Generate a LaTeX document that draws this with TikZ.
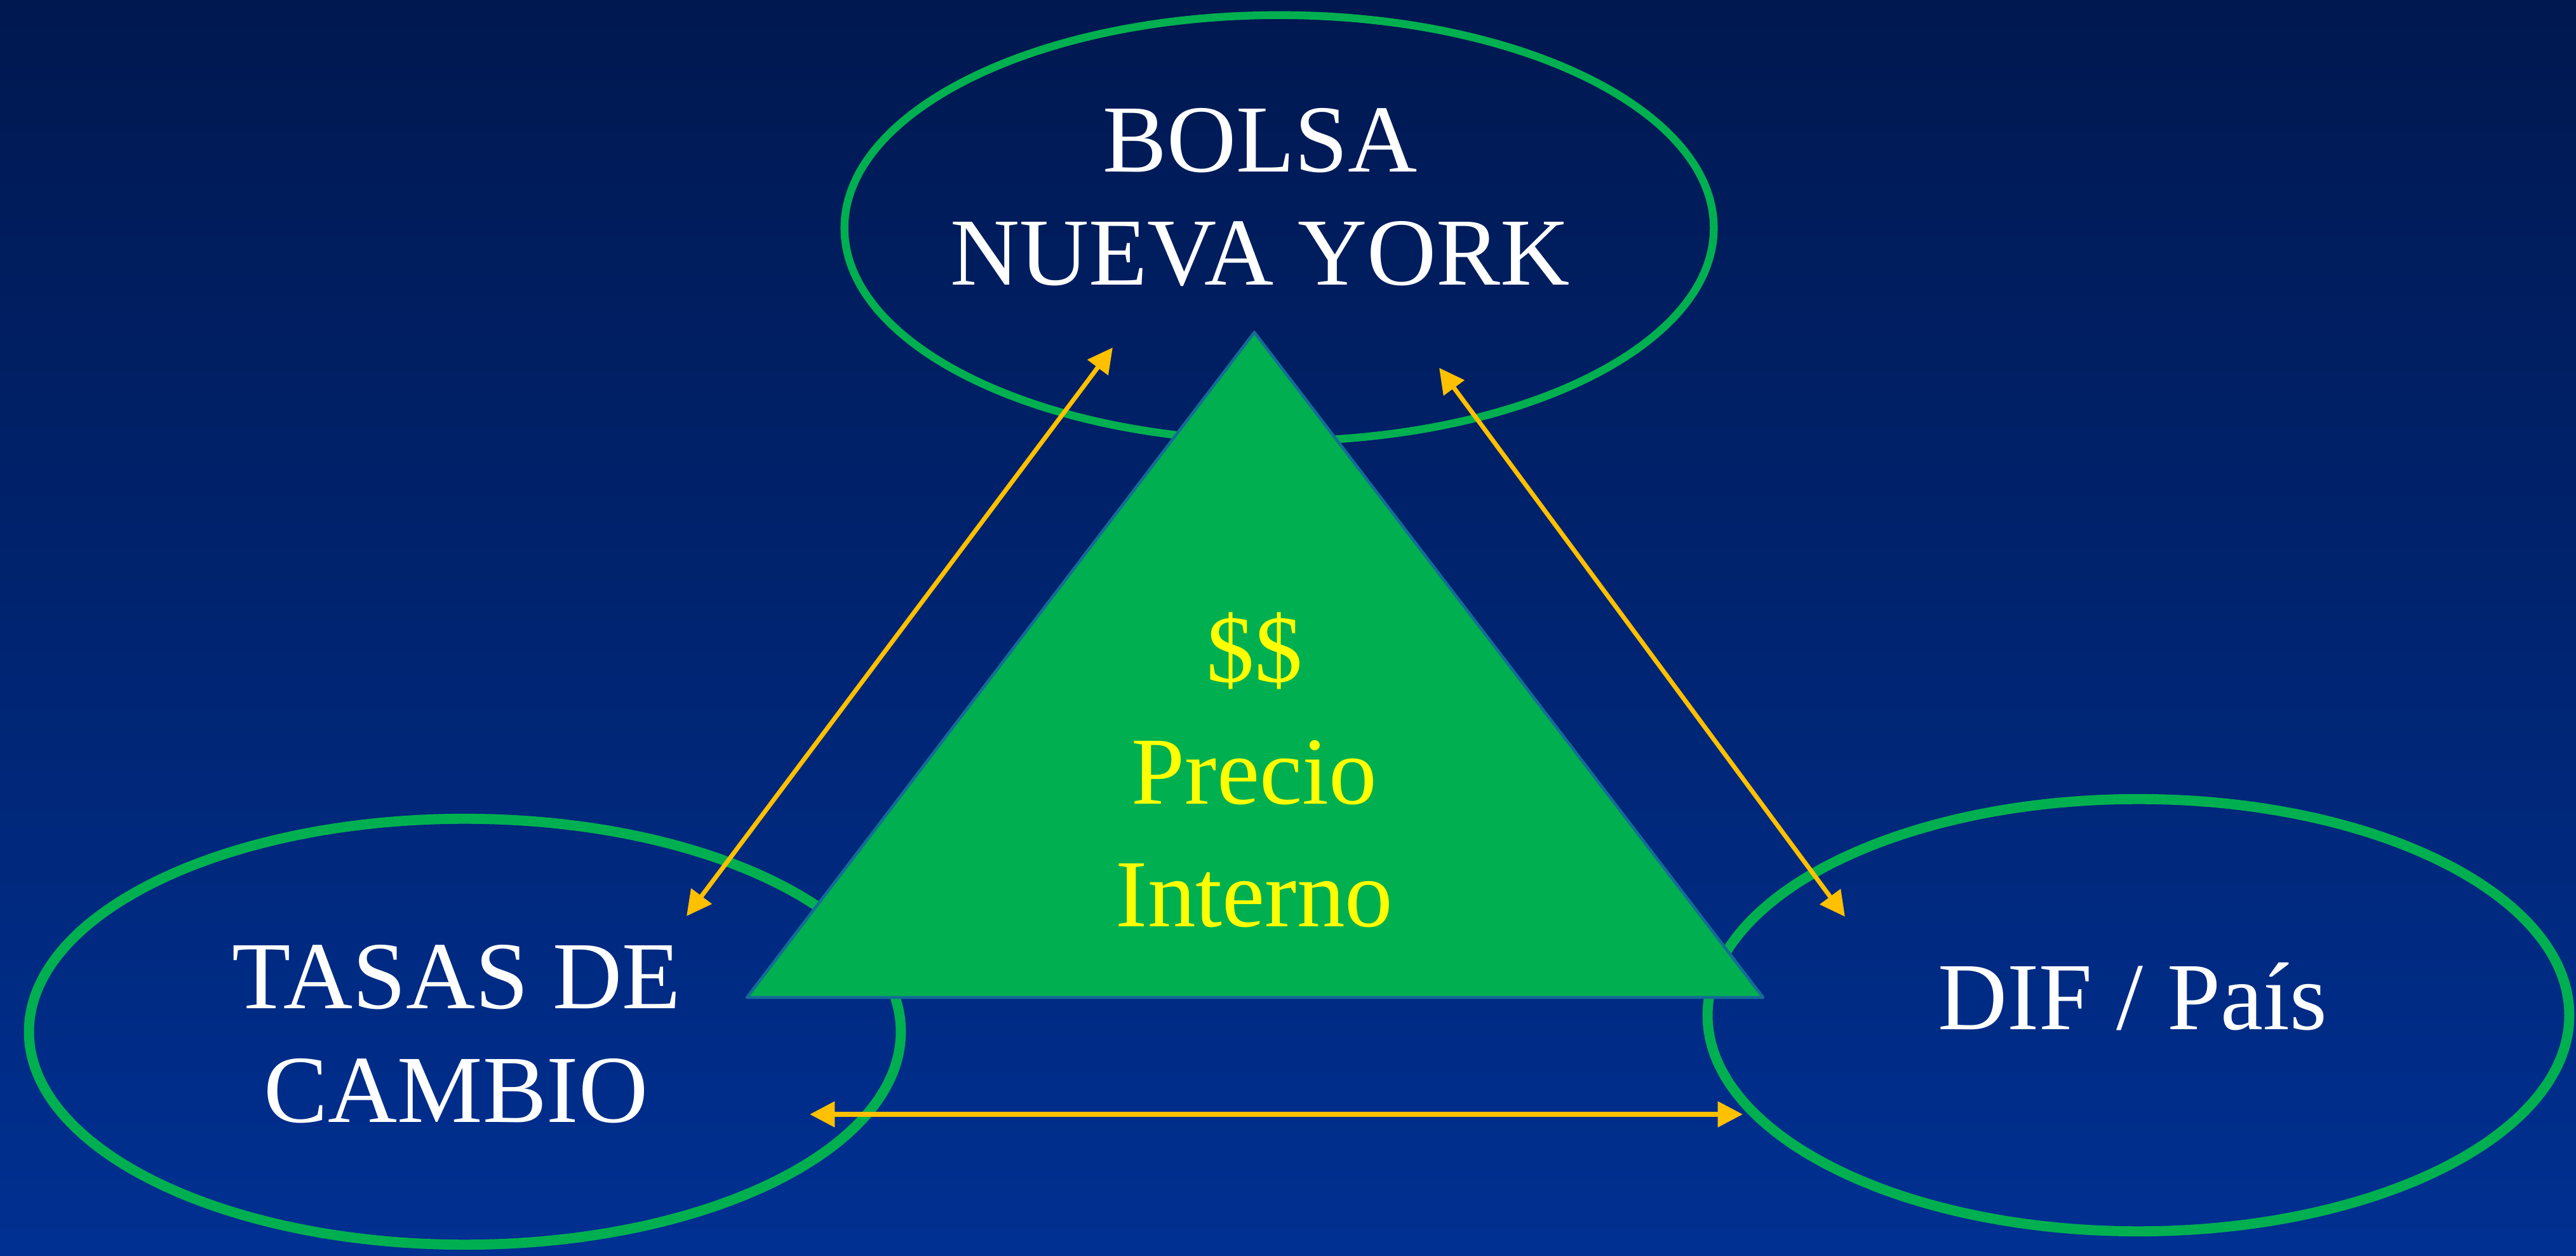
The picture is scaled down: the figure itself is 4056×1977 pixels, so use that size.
\documentclass[tikz,border=0pt]{standalone}
\usepackage{fontspec}
\setmainfont{Liberation Serif}
\usetikzlibrary{shapes.geometric,arrows.meta}
\definecolor{bgtop}{RGB}{0,24,80}
\definecolor{bgbot}{RGB}{0,48,146}
\definecolor{ringgreen}{RGB}{0,176,80}
\definecolor{arrowyellow}{RGB}{255,192,0}
\definecolor{textyellow}{RGB}{255,255,0}
\definecolor{triedge}{RGB}{20,108,150}
\tikzset{
  ring/.style={ellipse, draw=ringgreen, inner sep=0pt, outer sep=0pt},
  lbl/.style={anchor=base, inner sep=0pt, text=white, font=\fontsize{43}{51}\selectfont},
  ylbl/.style={anchor=base, inner sep=0pt, text=textyellow, font=\fontsize{43}{51}\selectfont},
  link/.style={draw=arrowyellow, line width=2pt, {Triangle[length=11.2pt,width=11.2pt]}-{Triangle[length=11.2pt,width=11.2pt]}}
}
\begin{document}
\begin{tikzpicture}[x=0.01cm,y=-0.01cm]
  \shade[top color=bgtop, bottom color=bgbot] (0,0) rectangle (4056,1977);
  \useasboundingbox (0,0) rectangle (4056,1977);
  % ellipses
  \node[ring, line width=3.5pt, minimum width=13.68cm, minimum height=6.70cm] (nyse) at (2014,359) {};
  \node[ring, line width=4.5pt, minimum width=13.72cm, minimum height=6.70cm] (tasas) at (732,1624) {};
  \node[ring, line width=4.5pt, minimum width=13.56cm, minimum height=6.80cm] (dif) at (3367,1598) {};
  % triangle
  \coordinate (apex) at (1975,523);
  \coordinate (bl) at (1176,1570);
  \coordinate (br) at (2776,1570);
  \filldraw[fill=ringgreen, draw=triedge, line width=1.3pt, line join=round] (apex) -- (bl) -- (br) -- cycle;
  % texts
  \node[lbl] (t1) at (1984,271) {BOLSA};
  \node[lbl] (t2) at (1984,449) {NUEVA YORK};
  \node[lbl] (t3) at (719,1588) {TASAS DE};
  \node[lbl] (t4) at (718,1767) {CAMBIO};
  \node[lbl] (t5) at (3358,1621) {DIF / País};
  \node[ylbl] (p1) at (1975,1074) {\$\$};
  \node[ylbl] (p2) at (1975,1266) {Precio};
  \node[ylbl] (p3) at (1975,1459) {Interno};
  % arrow end points
  \coordinate (a1s) at (1081,1442);
  \coordinate (a1e) at (1752,547);
  \coordinate (a2s) at (2266,579);
  \coordinate (a2e) at (2905,1443);
  \coordinate (a3s) at (1275,1754);
  \coordinate (a3e) at (2744,1754);
  \draw[link] (a1s) -- (a1e);
  \draw[link] (a2s) -- (a2e);
  \draw[link] (a3s) -- (a3e);
\end{tikzpicture}
\end{document}
